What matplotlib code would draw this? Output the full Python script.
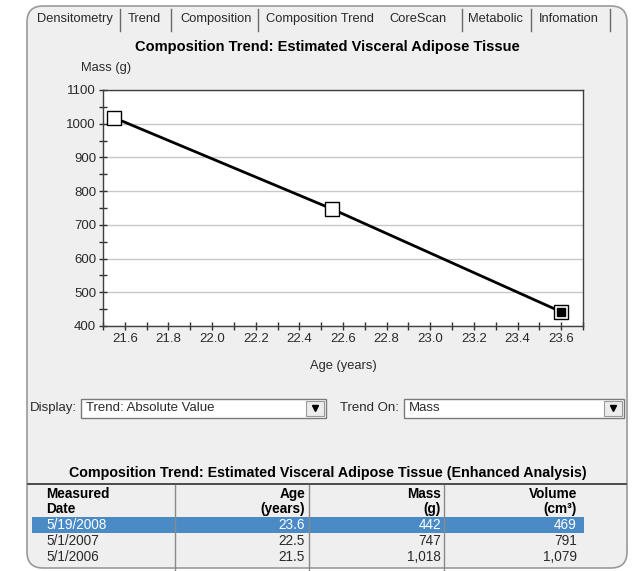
import matplotlib
matplotlib.use("Agg")
import matplotlib.pyplot as plt
from matplotlib.patches import FancyBboxPatch, Rectangle
from matplotlib.ticker import MultipleLocator, FormatStrFormatter

plt.rcParams['font.family'] = ['Liberation Sans', 'DejaVu Sans']

# data
tabs = ["Densitometry", "Trend", "Composition", "Composition Trend",
        "CoreScan", "Metabolic", "Infomation"]
ages = [21.55, 22.55, 23.6]
mass = [1018, 747, 442]
selected = 2  # index of highlighted scan

dates = ["5/19/2008", "5/1/2007", "5/1/2006"]
age_txt = ["23.6", "22.5", "21.5"]
mass_txt = ["442", "747", "1,018"]
volume_txt = ["469", "791", "1,079"]

title = "Composition Trend: Estimated Visceral Adipose Tissue"
table_title = "Composition Trend: Estimated Visceral Adipose Tissue (Enhanced Analysis)"

W, H = 638, 571
BG = "#efefef"
TXT = "#2a2a2a"

fig = plt.figure(figsize=(W / 100, H / 100), dpi=100)
fig.patch.set_facecolor("white")

# background canvas in pixel coordinates
bg = fig.add_axes([0, 0, 1, 1])
bg.set_xlim(0, W)
bg.set_ylim(H, 0)
bg.axis("off")

panel = FancyBboxPatch((27, 6), 600, 562, boxstyle="round,pad=0,rounding_size=16",
                       facecolor=BG, edgecolor="#9a9a9a", linewidth=1.2)
bg.add_patch(panel)

# tabs
tab_x = [37, 128, 180, 266, 389, 468, 539]
sep_x = [120, 171, 258, None, 462, 531, 610]
bg.add_patch(Rectangle((382, 8), 80, 24, facecolor="#f6f6f6", edgecolor="none", zorder=0.5))
for t, x, s in zip(tabs, tab_x, sep_x):
    bg.text(x, 19, t, fontsize=9.3, color=TXT, va="center", ha="left")
    if s is not None:
        bg.plot([s, s], [9, 31], color="#6a6a6a", lw=1)

bg.text(327, 47, title, fontsize=10.5, fontweight="bold", color="black",
        ha="center", va="center")
bg.text(106, 68, "Mass (g)", fontsize=9.3, color=TXT, ha="center", va="center")
bg.text(343, 366, "Age (years)", fontsize=9.3, color=TXT, ha="center", va="center")

# combo boxes
def combo(x0, x1, label, value, lx):
    bg.text(lx, 408, label, fontsize=9.5, color=TXT, ha="left", va="center")
    bg.add_patch(Rectangle((x0, 399), x1 - x0, 19, facecolor="white",
                           edgecolor="#7a7a7a", linewidth=1))
    bg.add_patch(Rectangle((x1 - 20, 401), 18, 15, facecolor="#ececec",
                           edgecolor="#9a9a9a", linewidth=0.8))
    bg.plot([x1 - 11], [408], marker="v", color="black", markersize=4)
    bg.text(x0 + 5, 408, value, fontsize=9.5, color=TXT, ha="left", va="center")

combo(81, 326, "Display:", "Trend: Absolute Value", 30)
combo(404, 624, "Trend On:", "Mass", 340)

# table
bg.text(328, 473, table_title, fontsize=10.3, fontweight="bold", color="black",
        ha="center", va="center")
bg.plot([28, 626], [484, 484], color="#303030", lw=1.2)
for sx in [175, 309, 444]:
    bg.plot([sx, sx], [485, 571], color="#8a8a8a", lw=1)

hdr = [("Measured", "Date", 46, "left"), ("Age", "(years)", 305, "right"),
       ("Mass", "(g)", 441, "right"), ("Volume", "(cm³)", 577, "right")]
for a, b, x, ha in hdr:
    bg.text(x, 494, a, fontsize=9.8, fontweight="bold", color="black", ha=ha, va="center")
    bg.text(x, 509, b, fontsize=9.8, fontweight="bold", color="black", ha=ha, va="center")

row_y = [525, 541, 557]
for i, y in enumerate(row_y):
    col = TXT
    if i == 0:
        bg.add_patch(Rectangle((32, 517), 552, 16, facecolor="#4a8bc6",
                               edgecolor="none", zorder=1))
        col = "white"
    for txt, x, ha in [(dates[i], 46, "left"), (age_txt[i], 305, "right"),
                       (mass_txt[i], 441, "right"), (volume_txt[i], 577, "right")]:
        bg.text(x, y, txt, fontsize=9.8, color=col, ha=ha, va="center", zorder=2)

# chart
ax = fig.add_axes([103 / W, 1 - 326 / H, 480 / W, 236 / H])
ax.set_facecolor("white")
ax.set_xlim(21.5, 23.7)
ax.set_ylim(400, 1100)
ax.xaxis.set_major_locator(MultipleLocator(0.2))
ax.xaxis.set_minor_locator(MultipleLocator(0.1))
ax.xaxis.set_major_formatter(FormatStrFormatter("%.1f"))
ax.yaxis.set_major_locator(MultipleLocator(100))
ax.yaxis.set_minor_locator(MultipleLocator(50))
ax.tick_params(which="both", direction="inout", length=6, width=1, color="#303030",
               labelsize=9.5, labelcolor=TXT, pad=2)
ax.grid(axis="y", which="major", color="#c8c8c8", lw=1)
ax.set_axisbelow(True)
for sp in ax.spines.values():
    sp.set_color("#404040")
    sp.set_linewidth(1)

ax.plot(ages, mass, color="black", lw=2, zorder=3)
ax.plot(ages, mass, ls="none", marker="s", markersize=10, markerfacecolor="white",
        markeredgecolor="black", markeredgewidth=1, zorder=4)
ax.plot([ages[selected]], [mass[selected]], ls="none", marker="s", markersize=6,
        color="black", zorder=5)

fig.savefig("out.png", dpi=100, facecolor="white")
